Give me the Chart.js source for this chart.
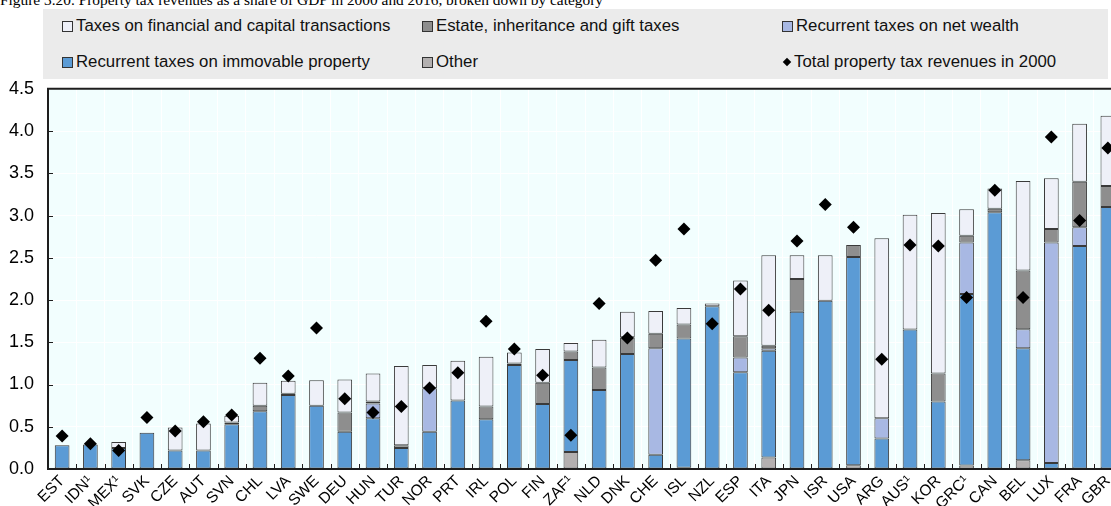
<!DOCTYPE html>
<html><head><meta charset="utf-8">
<script src="https://cdn.jsdelivr.net/npm/chart.js@4/dist/chart.umd.min.js"></script>
<style>
html,body{margin:0;padding:0;width:1111px;height:506px;overflow:hidden;background:#fff;}
#title{position:absolute;left:0;top:-8px;font-family:"Liberation Serif","Times New Roman",serif;font-size:15.4px;line-height:15px;white-space:nowrap;color:#000;}
#legend{position:absolute;left:43px;top:9px;width:1065px;height:70px;background:#ebebeb;font-family:"Liberation Sans",Arial,sans-serif;font-size:16.8px;color:#111;}
.sw{position:absolute;width:9px;height:9px;border:1px solid #333;}
.tx{position:absolute;white-space:nowrap;line-height:20px;}
.dm{position:absolute;width:6px;height:6px;background:#000;transform:rotate(45deg);}
#wrap{position:absolute;left:0;top:64px;width:1140px;height:442px;}
</style></head>
<body>
<div id="title">Figure 3.20. Property tax revenues as a share of GDP in 2000 and 2016, broken down by category</div>
<div id="legend"></div>
<div id="wrap"><canvas id="c" width="1140" height="442"></canvas></div>
<script>
const categories = ['EST','IDN¹','MEX¹','SVK','CZE','AUT','SVN','CHL','LVA','SWE','DEU','HUN','TUR','NOR','PRT','IRL','POL','FIN','ZAF¹','NLD','DNK','CHE','ISL','NZL','ESP','ITA','JPN','ISR','USA','ARG','AUS¹','KOR','GRC¹','CAN','BEL','LUX','FRA','GBR'];
const other     = [0,0,0,0,0,0,0,0,0,0,0,0,0,0,0,0,0,0,0.20,0,0,0,0.015,0,0,0.137,0,0,0.043,0,0,0,0.04,0,0.105,0,0,0];
const immovable = [0.28,0.29,0.25,0.43,0.22,0.22,0.53,0.685,0.875,0.75,0.44,0.60,0.25,0.44,0.81,0.59,1.23,0.77,1.09,0.935,1.36,0.17,1.53,1.925,1.146,1.263,1.86,1.99,2.467,0.36,1.65,0.80,2.03,3.04,1.325,0.07,2.64,3.10];
const netWealth = [0,0,0,0,0,0,0,0,0,0,0,0.175,0,0.515,0,0,0,0,0,0,0,1.26,0,0,0.174,0.03,0,0,0,0.24,0,0,0.61,0,0.225,2.61,0.22,0];
const estate    = [0,0,0,0,0,0,0.02,0.065,0.015,0,0.23,0.025,0.03,0,0,0.15,0.02,0.25,0.10,0.265,0.20,0.17,0.165,0,0.25,0.03,0.39,0,0.14,0,0,0.33,0.08,0.04,0.695,0.16,0.54,0.25];
const financial = [0,0,0.07,0,0.27,0.32,0.08,0.27,0.155,0.30,0.39,0.33,0.94,0.275,0.47,0.59,0.13,0.40,0.10,0.33,0.30,0.27,0.195,0.035,0.66,1.07,0.28,0.54,0,2.13,1.36,1.90,0.315,0.24,1.06,0.60,0.685,0.83];
const total2000 = [0.39,0.30,0.22,0.61,0.45,0.56,0.64,1.31,1.10,1.67,0.83,0.67,0.74,0.96,1.14,1.75,1.42,1.11,0.40,1.96,1.55,2.47,2.84,1.72,2.13,1.88,2.70,3.13,2.86,1.30,2.65,2.64,2.03,3.30,2.03,3.93,2.94,3.80];
const yTickLabels = ['0.0','0.5','1.0','1.5','2.0','2.5','3.0','3.5','4.0','4.5'];

const seriesNames = {
  financial:'Taxes on financial and capital transactions',
  estate:'Estate, inheritance and gift taxes',
  netWealth:'Recurrent taxes on net wealth',
  immovable:'Recurrent taxes on immovable property',
  other:'Other',
  total:'Total property tax revenues in 2000'
};
const colors = {financial:'#eef0f8', estate:'#8e8e8e', netWealth:'#a8b8e3', immovable:'#5b9bd5', other:'#b3b0b0'};

// HTML legend
const legendItems = [
  {key:'financial', x:19, y:17},{key:'estate', x:379, y:17},{key:'netWealth', x:739, y:17},
  {key:'immovable', x:19, y:53},{key:'other', x:379, y:53},{key:'total', x:739, y:53}
];
const lg = document.getElementById('legend');
legendItems.forEach(it=>{
  if(it.key==='total'){
    const d=document.createElement('div');d.className='dm';d.style.left=(it.x+2)+'px';d.style.top=(it.y-3)+'px';lg.appendChild(d);
  } else {
    const s=document.createElement('div');s.className='sw';s.style.left=it.x+'px';s.style.top=(it.y-5)+'px';s.style.background=colors[it.key];lg.appendChild(s);
  }
  const t=document.createElement('div');t.className='tx';t.textContent=seriesNames[it.key];
  t.style.left=(it.x+(it.key==='total'?12:14))+'px';t.style.top=(it.y-10)+'px';lg.appendChild(t);
});

const nz = a => a.map(v => v===0 ? null : v);
const barCommon = {type:'bar', borderColor:'#3a3a3a', borderWidth:1, borderSkipped:false, barPercentage:0.52, categoryPercentage:1, stack:'s', order:1};

const frame = {
  id:'frame',
  beforeDraw(chart){
    const {ctx, chartArea:a} = chart;
    ctx.save(); ctx.fillStyle='#f2fefe'; ctx.fillRect(a.left,a.top,a.right-a.left,a.bottom-a.top); ctx.restore();
  },
  afterDraw(chart){
    const {ctx, chartArea:a, scales} = chart;
    ctx.save();
    ctx.strokeStyle='#1e1e1e'; ctx.lineWidth=1;
    const xs = scales.x;
    ctx.beginPath();
    for(let i=0;i<categories.length-1;i++){
      const px = Math.round((xs.getPixelForTick(i)+xs.getPixelForTick(i+1))/2)+0.5;
      ctx.moveTo(px,a.bottom); ctx.lineTo(px,a.bottom-5);
    }
    const ys = scales.y;
    for(let v=0.5; v<4.5; v+=0.5){
      const py = Math.round(ys.getPixelForValue(v))+0.5;
      ctx.moveTo(a.left,py); ctx.lineTo(a.left+5,py);
    }
    ctx.stroke();
    ctx.lineWidth=2;
    ctx.beginPath();
    ctx.moveTo(a.right,a.top); ctx.lineTo(a.left,a.top); ctx.lineTo(a.left,a.bottom); ctx.lineTo(a.right,a.bottom);
    ctx.stroke();
    ctx.restore();
  }
};

new Chart(document.getElementById('c'), {
  data:{
    labels: categories,
    datasets:[
      {...barCommon, label:seriesNames.other, data:nz(other), backgroundColor:colors.other},
      {...barCommon, label:seriesNames.immovable, data:nz(immovable), backgroundColor:colors.immovable},
      {...barCommon, label:seriesNames.netWealth, data:nz(netWealth), backgroundColor:colors.netWealth},
      {...barCommon, label:seriesNames.estate, data:nz(estate), backgroundColor:colors.estate},
      {...barCommon, label:seriesNames.financial, data:nz(financial), backgroundColor:colors.financial},
      {type:'line', label:seriesNames.total, data:total2000, showLine:false, pointStyle:'rectRot', pointRadius:6.5,
       backgroundColor:'#000', borderColor:'#000', borderWidth:0, stack:'d', order:0}
    ]
  },
  options:{
    responsive:false, animation:false,
    layout:{padding:{top:0, right:18, left:0, bottom:0}},
    plugins:{legend:{display:false}, tooltip:{enabled:false}},
    scales:{
      x:{stacked:true,
         grid:{color:'#ffffff', lineWidth:1, drawTicks:false, offset:true},
         border:{display:false},
         ticks:{autoSkip:false, maxRotation:45, minRotation:45, padding:3, color:'#000',
                font:{family:'"Liberation Sans", Arial, sans-serif', size:15.5}},
         afterFit(s){ s.height = 37; }},
      y:{stacked:true, min:0, max:4.5,
         grid:{color:'#ffffff', lineWidth:1, drawTicks:false},
         border:{display:false},
         ticks:{stepSize:0.5, padding:14, color:'#000',
                font:{family:'"Liberation Sans", Arial, sans-serif', size:18},
                callback:(v,i)=>yTickLabels[i]},
         afterFit(s){ s.width = 48; }}
    }
  },
  plugins:[frame]
});
</script>
</body></html>
